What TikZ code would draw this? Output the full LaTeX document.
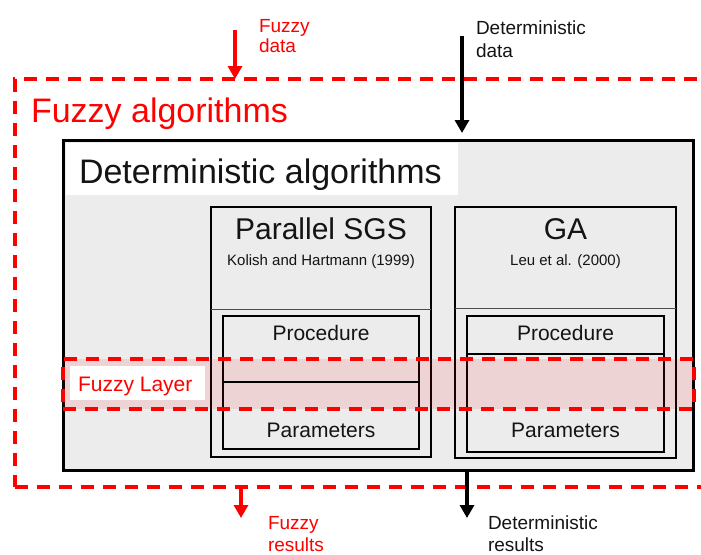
\documentclass[tikz,border=0pt]{standalone}
\usepackage{fontspec}
\setmainfont{Liberation Sans}
\usetikzlibrary{arrows.meta}
\definecolor{boxgray}{RGB}{236,236,236}
\definecolor{fred}{RGB}{255,0,0}
\definecolor{txtblack}{RGB}{20,20,20}
\begin{document}
\begin{tikzpicture}[x=1pt,y=-1pt,
 box/.style={inner sep=0pt, outer sep=0pt, anchor=north west},
 reddash/.style={draw=fred, line width=3.2pt, dash pattern=on 13pt off 9pt},
 txt/.style={inner sep=0pt, outer sep=0pt, anchor=base west, text=txtblack},
 ctxt/.style={inner sep=0pt, outer sep=0pt, anchor=base, text=txtblack},
 rtxt/.style={inner sep=0pt, outer sep=0pt, anchor=base west, text=fred},
 arr/.style={line width=4pt, -{Triangle[width=14pt,length=13pt]}},
 huge/.style={font=\fontsize{34}{40}\selectfont},
 big/.style={font=\fontsize{30}{36}\selectfont},
 mid/.style={font=\fontsize{21}{25}\selectfont},
 lab/.style={font=\fontsize{19}{23}\selectfont},
 small/.style={font=\fontsize{15}{18}\selectfont},
]
\useasboundingbox (0,0) rectangle (701,554);

% outer fuzzy algorithms frame
\node[box, reddash, minimum width=720pt, minimum height=408pt] (fuzzyalg) at (15,79) {};
\node[rtxt, huge] (fuzzyalgtxt) at (31,122) {Fuzzy algorithms};

% deterministic algorithms box
\node[box, draw=black, fill=boxgray, line width=3pt, minimum width=630pt, minimum height=330pt] (detalg) at (63,140) {};
\node[box, fill=white, minimum width=392pt, minimum height=52pt] (dettitle) at (66,143) {};
\node[txt, huge] (dettitletxt) at (79,183) {Deterministic algorithms};

% Parallel SGS
\node[box, draw=black, line width=2.5pt, minimum width=220pt, minimum height=250pt] (sgs) at (211,207) {};
\draw[line width=0.8pt, black!70] (sgs.west |- 0,309) -- (sgs.east |- 0,309);
\node[ctxt, big] (sgstitle) at (321,239) {Parallel SGS};
\node[ctxt, small] (sgsref) at (321,265) {Kolish and Hartmann (1999)};
\node[box, draw=black, line width=2.5pt, minimum width=196pt, minimum height=133pt] (sgsin) at (223,316) {};

% GA
\node[box, draw=black, line width=2.5pt, minimum width=221pt, minimum height=251pt] (ga) at (455,207) {};
\draw[line width=0.8pt, black!70] (ga.west |- 0,308) -- (ga.east |- 0,308);
\node[ctxt, big] (gatitle) at (565.5,239) {GA};
\node[ctxt, small] (garef) at (565.5,265) {Leu et al. (2000)};
\node[box, draw=black, line width=2.5pt, minimum width=197pt, minimum height=136pt] (gain) at (467,316) {};

% fuzzy layer
\node[box, fill=red, fill opacity=0.1, minimum width=631pt, minimum height=50pt] (fuzzylayerfill) at (63,359) {};
\draw[line width=2.5pt] (sgsin.west |- 0,382) -- (sgsin.east |- 0,382);
\draw[line width=2.5pt] (gain.west |- 0,354) -- (gain.east |- 0,354);
\node[box, reddash, minimum width=631pt, minimum height=50pt] (fuzzylayer) at (63,359) {};
\node[box, fill=white, minimum width=135pt, minimum height=34pt] (fuzzylabelbox) at (70,366) {};
\node[rtxt, mid] (fuzzylabel) at (78,391) {Fuzzy Layer};

% procedure / parameters
\node[ctxt, mid] (sgsproc) at (321,340) {Procedure};
\node[ctxt, mid] (sgspar) at (321,437) {Parameters};
\node[ctxt, mid] (gaproc) at (565.5,340) {Procedure};
\node[ctxt, mid] (gapar) at (565.5,437) {Parameters};

% labels
\node[rtxt, lab] (fd1) at (259,32) {Fuzzy};
\node[rtxt, lab] (fd2) at (259,52) {data};
\node[txt, lab] (dd1) at (476,34) {Deterministic};
\node[txt, lab] (dd2) at (476,57) {data};
\node[rtxt, lab] (fr1) at (268,529) {Fuzzy};
\node[rtxt, lab] (fr2) at (268,551) {results};
\node[txt, lab] (dr1) at (488,529) {Deterministic};
\node[txt, lab] (dr2) at (488,551) {results};

% arrows
\coordinate (fdstart) at (235,30);
\coordinate (ddstart) at (462,36);
\coordinate (frend) at (241,518);
\coordinate (drend) at (467,518);
\draw[arr, fred] (fdstart) -- (fdstart |- fuzzyalg.north);
\draw[arr, black, shorten >=7pt] (ddstart) -- (ddstart |- detalg.north);
\draw[arr, fred] (frend |- fuzzyalg.south) -- (frend);
\draw[arr, black] (drend |- detalg.south) -- (drend);
\end{tikzpicture}
\end{document}
